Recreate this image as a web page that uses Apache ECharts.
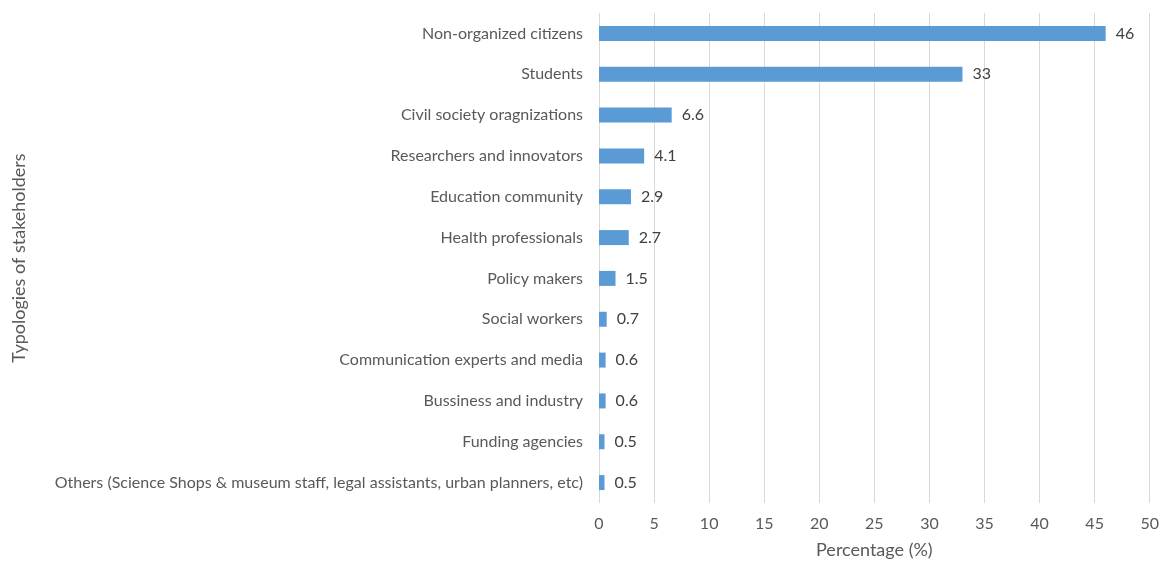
<!DOCTYPE html>
<html><head><meta charset="utf-8">
<script src="https://cdn.jsdelivr.net/npm/echarts@6/dist/echarts.min.js"></script>
<style>html,body{margin:0;padding:0;background:#fff}#c{width:1162px;height:564px}</style>
</head><body><div id="c"></div>
<script>
const categories = [
  "Non-organized citizens",
  "Students",
  "Civil society oragnizations",
  "Researchers and innovators",
  "Education community",
  "Health professionals",
  "Policy makers",
  "Social workers",
  "Communication experts and media",
  "Bussiness and industry",
  "Funding agencies",
  "Others (Science Shops & museum staff, legal assistants, urban planners, etc)"
];
const values = [46, 33, 6.6, 4.1, 2.9, 2.7, 1.5, 0.7, 0.6, 0.6, 0.5, 0.5];
const xAxisName = "Percentage (%)";
const yAxisName = "Typologies of stakeholders";

const font = "Lato, 'Open Sans', sans-serif";
const chart = echarts.init(document.getElementById('c'));
chart.setOption({
  animation: false,
  grid: {left: 599, right: 8, top: 13, bottom: 61, containLabel: false},
  xAxis: {
    type: 'value', min: 0, max: 50, interval: 5,
    name: xAxisName, nameLocation: 'middle', nameGap: 38,
    nameTextStyle: {color: '#595959', fontSize: 18, fontFamily: font},
    axisLabel: {color: '#595959', fontSize: 16, fontFamily: font, margin: 13},
    axisLine: {show: false}, axisTick: {show: false},
    splitLine: {lineStyle: {color: '#d9d9d9', width: 1}}
  },
  yAxis: {
    type: 'category', data: categories, inverse: true,
    name: yAxisName, nameLocation: 'middle', nameGap: 571, nameRotate: 90,
    nameTextStyle: {color: '#595959', fontSize: 18, fontFamily: font},
    axisLabel: {color: '#595959', fontSize: 16, fontFamily: font, margin: 16},
    axisLine: {show: false}, axisTick: {show: false}, splitLine: {show: false}
  },
  series: [{
    type: 'bar', data: values, barWidth: 15,
    itemStyle: {color: '#5b9bd5'},
    label: {show: true, position: 'right', distance: 10, color: '#404040', fontSize: 16, fontFamily: font}
  }]
});
</script></body></html>
